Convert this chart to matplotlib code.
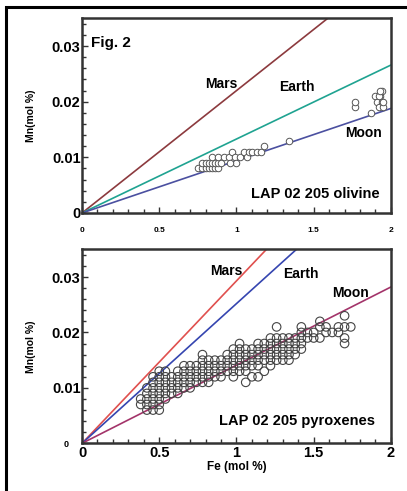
import matplotlib
matplotlib.use("Agg")
import matplotlib.pyplot as plt
from matplotlib.patches import Rectangle
from matplotlib.ticker import MultipleLocator

plt.rcParams['font.family'] = ['Liberation Sans', 'DejaVu Sans']
plt.rcParams['font.weight'] = 'bold'

# Mn/Fe reference slopes (Mn mol% per Fe mol%)
ol_slopes = {"Mars": 0.0220, "Earth": 0.0133, "Moon": 0.0094}
px_slopes = {"Mars": 0.0293, "Earth": 0.0252, "Moon": 0.0141}

ol_colors = {"Mars": "#8c3a3e", "Earth": "#1fa391", "Moon": "#4b50a0"}
px_colors = {"Mars": "#e0504e", "Earth": "#3545b0", "Moon": "#a3346a"}

# olivine analyses
ol_fe = [0.75, 0.78, 0.80, 0.82, 0.84, 0.86, 0.88,
         0.78, 0.80, 0.82, 0.84, 0.86, 0.88, 0.90,
         0.84, 0.88, 0.92, 0.95, 0.97, 0.99, 1.00, 0.96,
         1.02, 1.05, 1.07, 1.08, 1.10, 1.13, 1.16, 1.18, 1.34,
         1.77, 1.77, 1.87,
         1.90, 1.91, 1.92, 1.93, 1.94, 1.94, 1.95, 1.95, 1.92, 1.93]
ol_mn = [0.008, 0.008, 0.008, 0.008, 0.008, 0.008, 0.008,
         0.009, 0.009, 0.009, 0.009, 0.009, 0.009, 0.009,
         0.010, 0.010, 0.010, 0.010, 0.011, 0.010, 0.009, 0.009,
         0.010, 0.011, 0.010, 0.011, 0.011, 0.011, 0.011, 0.012, 0.013,
         0.019, 0.020, 0.018,
         0.021, 0.020, 0.019, 0.021, 0.022, 0.020, 0.019, 0.020, 0.021, 0.022]

# pyroxene analyses
px_fe = ([0.38] * 2 + [0.42] * 5 + [0.46] * 7 + [0.50] * 8 + [0.54] * 6
         + [0.58] * 4 + [0.62] * 5 + [0.66] * 5 + [0.70] * 5 + [0.74] * 4
         + [0.78] * 6 + [0.82] * 5 + [0.86] * 4 + [0.90] * 4 + [0.94] * 4
         + [0.98] * 6 + [1.02] * 6 + [1.06] * 6 + [1.10] * 5 + [1.14] * 6
         + [1.18] * 5 + [1.22] * 6 + [1.26] * 6 + [1.30] * 5 + [1.34] * 5
         + [1.38] * 4 + [1.42] * 5 + [1.46] * 2 + [1.50] * 2 + [1.54] * 3
         + [1.58] * 2 + [1.62] * 1 + [1.66] * 2 + [1.70] * 4 + [1.74] * 1)
px_mn = [0.007, 0.008,
         0.006, 0.007, 0.008, 0.009, 0.010,
         0.006, 0.007, 0.008, 0.009, 0.010, 0.011, 0.012,
         0.006, 0.007, 0.008, 0.009, 0.010, 0.011, 0.012, 0.013,
         0.008, 0.009, 0.010, 0.011, 0.012, 0.013,
         0.009, 0.010, 0.011, 0.012,
         0.009, 0.010, 0.011, 0.012, 0.013,
         0.010, 0.011, 0.012, 0.013, 0.014,
         0.010, 0.011, 0.012, 0.013, 0.014,
         0.011, 0.012, 0.013, 0.014,
         0.011, 0.012, 0.013, 0.014, 0.015, 0.016,
         0.011, 0.012, 0.013, 0.014, 0.015,
         0.012, 0.013, 0.014, 0.015,
         0.012, 0.013, 0.014, 0.015,
         0.013, 0.014, 0.015, 0.016,
         0.012, 0.013, 0.014, 0.015, 0.016, 0.017,
         0.013, 0.014, 0.015, 0.016, 0.017, 0.018,
         0.011, 0.013, 0.014, 0.015, 0.016, 0.017,
         0.012, 0.014, 0.015, 0.016, 0.017,
         0.012, 0.014, 0.015, 0.016, 0.017, 0.018,
         0.013, 0.015, 0.016, 0.017, 0.018,
         0.014, 0.015, 0.016, 0.017, 0.018, 0.019,
         0.015, 0.016, 0.017, 0.018, 0.019, 0.021,
         0.015, 0.016, 0.017, 0.018, 0.019,
         0.015, 0.016, 0.017, 0.018, 0.019,
         0.016, 0.017, 0.018, 0.019,
         0.017, 0.018, 0.019, 0.020, 0.021,
         0.019, 0.020,
         0.019, 0.020,
         0.019, 0.021, 0.022,
         0.020, 0.021,
         0.020,
         0.021, 0.020,
         0.018, 0.019, 0.021, 0.023,
         0.021]

fig = plt.figure(figsize=(4.07, 4.91), dpi=100)
ax1 = fig.add_axes([0.2015, 0.5662, 0.759, 0.3965])
ax2 = fig.add_axes([0.2015, 0.0971, 0.759, 0.3952])

# outer frame, only left and top edges are inside the picture
fig.patches.append(Rectangle((6 / 407, -0.1), 1.2, 1.1 - 6.5 / 491, transform=fig.transFigure,
                             fill=False, lw=2.2, ec="black"))

xx = [0, 2]
for name, s in ol_slopes.items():
    ax1.plot(xx, [0, 2 * s], color=ol_colors[name], lw=1.2)
ax1.scatter(ol_fe, ol_mn, s=22, facecolors="white", edgecolors="#555555", linewidths=0.7, zorder=3)

for name, s in px_slopes.items():
    ax2.plot(xx, [0, 2 * s], color=px_colors[name], lw=1.2)
ax2.scatter(px_fe, px_mn, s=38, facecolors="none", edgecolors="#444444", linewidths=0.8, zorder=3)

for ax in (ax1, ax2):
    ax.set_xlim(0, 2)
    ax.set_ylim(0, 0.035)
    ax.set_xticks([0, 0.5, 1, 1.5, 2])
    ax.set_xticklabels(["0", "0.5", "1", "1.5", "2"])
    ax.set_yticks([0, 0.01, 0.02, 0.03])
    ax.xaxis.set_minor_locator(MultipleLocator(0.1))
    ax.yaxis.set_minor_locator(MultipleLocator(0.002))
    ax.tick_params(which="both", direction="in", color="#333333", width=1)
    ax.tick_params(which="major", length=4)
    ax.tick_params(which="minor", length=3)
    for sp in ax.spines.values():
        sp.set_color("#333333")
        sp.set_linewidth(1.8)
    ax.set_ylabel("Mn(mol %)", fontsize=7.5, fontweight="bold")
    ax.yaxis.set_label_coords(-0.15, 0.5)

ax1.set_yticklabels(["0", "0.01", "0.02", "0.03"], fontsize=10.5)
ax1.tick_params(axis="x", labelsize=6, pad=10)
ax1.tick_params(axis="y", pad=1)

ax2.set_yticklabels(["0", "0.01", "0.02", "0.03"], fontsize=10.5)
ax2.get_yticklabels()[0].set_fontsize(6.5)
ax2.get_yticklabels()[0].set_x(-0.02)
ax2.tick_params(axis="x", labelsize=10.5, pad=2)
ax2.tick_params(axis="y", pad=1)
ax2.set_xlabel("Fe (mol %)", fontsize=8.5, fontweight="bold", labelpad=0.5)

ax1.text(0.03, 0.872, "Fig. 2", transform=ax1.transAxes, fontsize=11, fontweight="bold", va="center")
ax1.text(0.905, 0.0232, "Mars", ha="center", va="center", fontsize=10, fontweight="bold")
ax1.text(1.39, 0.0227, "Earth", ha="center", va="center", fontsize=10, fontweight="bold")
ax1.text(1.82, 0.0144, "Moon", ha="center", va="center", fontsize=10, fontweight="bold")
ax1.text(1.93, 0.0034, "LAP 02 205 olivine", ha="right", va="center", fontsize=10.5, fontweight="bold")

ax2.text(0.936, 0.0311, "Mars", ha="center", va="center", fontsize=10, fontweight="bold")
ax2.text(1.42, 0.0306, "Earth", ha="center", va="center", fontsize=10, fontweight="bold")
ax2.text(1.736, 0.0272, "Moon", ha="center", va="center", fontsize=10, fontweight="bold")
ax2.text(1.90, 0.0040, "LAP 02 205 pyroxenes", ha="right", va="center", fontsize=10.5, fontweight="bold")

# keep the small "0" on the y axis clear of the x axis "0"
fig.canvas.draw()
for lab in ax2.get_yticklabels()[:1]:
    lab.set_horizontalalignment("right")
ax2.tick_params(axis="y", which="major", pad=1)
ax2.yaxis.get_major_ticks()[0].set_pad(5)

fig.savefig("out.png", dpi=100)
